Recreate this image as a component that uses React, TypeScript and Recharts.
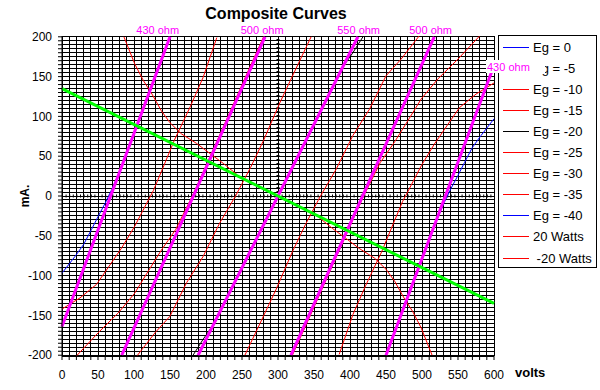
import React from 'react';
import { LineChart, Line, XAxis, YAxis, CartesianGrid, ReferenceLine, ReferenceDot, Legend } from 'recharts';

// composite plate curves, [volts, mA]
const eg0 = [[0, -97], [18, -76], [30, -61], [41, -42], [50, -26], [60, -9], [69, 8], [80, 31], [100, 78], [125, 137], [150, 200]];
const eg5 = [[0, -142], [25, -128], [48, -111], [64, -90], [83, -65], [101, -38], [120, -5], [127, 7], [140, 35], [156, 70], [178, 112], [196, 149], [215, 199]];
const eg10 = [[20, -201], [50, -172], [78, -147], [101, -122], [118, -97], [138, -68], [158, -42], [170, -20], [181, 0], [200, 38], [230, 99], [260, 160], [280, 200]];
const eg15 = [[104, -201], [129, -172], [150, -151], [173, -109], [196, -76], [219, -34], [241, 0], [262, 36], [280, 70], [303, 118], [326, 162], [346, 200]];
const eg20 = [[182, -200], [196, -180], [210, -162], [250, -90], [300, 0], [350, 90], [390, 162], [404, 180], [418, 200]];
const eg25 = [[254, -200], [274, -162], [297, -118], [320, -70], [338, -36], [359, 0], [381, 34], [404, 76], [427, 109], [450, 151], [471, 172], [496, 201]];
const eg30 = [[320, -200], [340, -160], [370, -99], [400, -38], [419, 0], [430, 20], [442, 42], [462, 68], [482, 97], [499, 122], [522, 147], [550, 172], [580, 201]];
const eg35 = [[385, -199], [404, -149], [422, -112], [444, -70], [460, -35], [473, -7], [480, 5], [499, 38], [517, 65], [536, 90], [552, 111], [575, 128], [600, 142]];
const eg40 = [[450, -200], [475, -137], [500, -78], [520, -31], [531, -8], [540, 9], [550, 26], [559, 42], [570, 61], [582, 76], [600, 97]];

// plate dissipation limits
const watts20 = [[86, 200], [101, 166], [113, 145], [125, 128], [138, 107], [150, 92], [166, 78], [187, 66], [206, 53], [224, 41], [243, 27]];
const watts20neg = [[357, -27], [376, -41], [394, -53], [413, -66], [434, -78], [450, -92], [462, -107], [475, -128], [487, -145], [499, -166], [514, -200]];

// plate resistance lines + load line
const ohm430a = [[0, -164], [150, 200]];
const ohm500a = [[83, -200], [282, 200]];
const ohm550 = [[189, -200], [411, 200]];
const ohm500b = [[318, -200], [517, 200]];
const ohm430b = [[450, -200], [600, 164]];
const loadLine = [[0, 135], [600, -135]];

const ohmNames = ['430 ohm', '500 ohm', '550 ohm', '500 ohm'];
const ohmLabelVolts = [133, 278, 412, 512];

const xTicks = Array.from({ length: 61 }, (_, k) => k * 10);
const yTicks = Array.from({ length: 81 }, (_, k) => -200 + k * 5);

const pts = (arr: number[][]) => arr.map(([v, i]) => ({ v, i }));

const RED = '#ff0000';
const BLUE = '#0000ff';
const BLACK = '#000000';
const MAGENTA = '#ff00ff';
const GREEN = '#00ff00';

const series = [
  { name: 'Eg = 0', data: eg0, color: BLUE },
  { name: 'Eg = -5', data: eg5, color: RED },
  { name: 'Eg = -10', data: eg10, color: RED },
  { name: 'Eg = -15', data: eg15, color: RED },
  { name: 'Eg = -20', data: eg20, color: BLACK },
  { name: 'Eg = -25', data: eg25, color: RED },
  { name: 'Eg = -30', data: eg30, color: RED },
  { name: 'Eg = -35', data: eg35, color: RED },
  { name: 'Eg = -40', data: eg40, color: BLUE },
  { name: '20 Watts', data: watts20, color: RED },
  { name: ' -20 Watts', data: watts20neg, color: RED },
];

const ohmLines = [ohm430a, ohm500a, ohm550, ohm500b, ohm430b];

const gridLine = (p: any) => (
  <line key={`${p.x1}-${p.y1}-${p.x2}`} x1={p.x1} y1={p.y1} x2={p.x2} y2={p.y2}
    stroke="#000" strokeWidth={1} shapeRendering="crispEdges" />
);

const renderLegend = () => (
  <div>
    <div style={{
      position: 'absolute', left: 498, top: 35, width: 99, height: 233, boxSizing: 'border-box',
      border: '1px solid #000', background: '#fff', fontSize: 13, color: '#000',
    }}>
      {series.map((s, k) => (
        <div key={k} style={{ position: 'absolute', left: 0, top: 3 + k * 21.1, height: 16, display: 'flex', alignItems: 'center', whiteSpace: 'pre' }}>
          <span style={{ display: 'inline-block', marginLeft: 4, width: 26, height: 0, borderTop: `1px solid ${s.color}` }} />
          <span style={{ marginLeft: 4 }}>{s.name}</span>
        </div>
      ))}
    </div>
    {/* data label of the right 430 ohm line sits over the legend */}
    <div style={{
      position: 'absolute', left: 486, top: 60, width: 59, height: 13, background: '#fff',
      color: MAGENTA, fontSize: 11, lineHeight: '15px', paddingLeft: 1, boxSizing: 'border-box', whiteSpace: 'pre',
    }}>430 ohm</div>
  </div>
);

export default function App() {
  return (
    <div style={{
      position: 'absolute', left: 0, top: 0, width: 600, height: 390, background: '#fff',
      fontFamily: '"Liberation Sans", Arial, sans-serif',
    }}>
      <div style={{ position: 'absolute', left: 0, top: 5, width: 552, textAlign: 'center', fontWeight: 'bold', fontSize: 16, lineHeight: '18px' }}>
        Composite Curves
      </div>
      <LineChart width={600} height={390} margin={{ top: 36, right: 106, bottom: 0, left: 0 }}>
        <CartesianGrid horizontal={gridLine} vertical={gridLine} />
        <XAxis
          dataKey="v" type="number" domain={[0, 600]} ticks={xTicks} interval={0}
          tickFormatter={(t: number) => (t % 50 === 0 ? String(t) : '')}
          height={34} tickSize={4} tickMargin={10}
          tick={{ fill: '#000', fontSize: 12 }} stroke="#000"
          label={{ content: () => <text x={515} y={377} fontWeight="bold" fontSize={13} fill="#000">volts</text> }}
        />
        <YAxis
          type="number" domain={[-200, 200]} ticks={yTicks} interval={0}
          tickFormatter={(t: number) => (t % 50 === 0 ? String(t) : '')}
          width={62} tickSize={4} tickMargin={6}
          tick={{ fill: '#000', fontSize: 12 }} stroke="#000"
          label={{ content: () => <text x={29} y={196} transform="rotate(-90 29 196)" textAnchor="middle" fontWeight="bold" fontSize={12} fill="#000">mA.</text> }}
        />
        <ReferenceLine y={0} stroke="#000" strokeWidth={3} strokeDasharray="1 2.6" />
        <ReferenceLine x={300} stroke="#000" strokeWidth={3} strokeDasharray="1 3" />
        {series.map((s) => (
          <Line key={s.name} data={pts(s.data)} dataKey="i" name={s.name} stroke={s.color} strokeWidth={1}
            dot={false} activeDot={false} isAnimationActive={false} type="linear" />
        ))}
        {ohmLines.map((d, k) => (
          <Line key={`ohm${k}`} data={pts(d)} dataKey="i" stroke={MAGENTA} strokeWidth={3}
            dot={false} activeDot={false} isAnimationActive={false} legendType="none" />
        ))}
        <Line data={pts(loadLine)} dataKey="i" stroke={GREEN} strokeWidth={3}
          dot={false} activeDot={false} isAnimationActive={false} legendType="none" />
        {ohmNames.map((n, k) => (
          <ReferenceDot key={`lbl${k}`} x={ohmLabelVolts[k]} y={200} r={1} fill="none" stroke="none"
            label={{ value: n, position: 'top', offset: 2, fill: MAGENTA, fontSize: 11 }} />
        ))}
        <Legend verticalAlign="top" align="left" content={renderLegend}
          wrapperStyle={{ position: 'absolute', left: 0, top: 0, width: 0, height: 0, overflow: 'visible' }} />
      </LineChart>
    </div>
  );
}
